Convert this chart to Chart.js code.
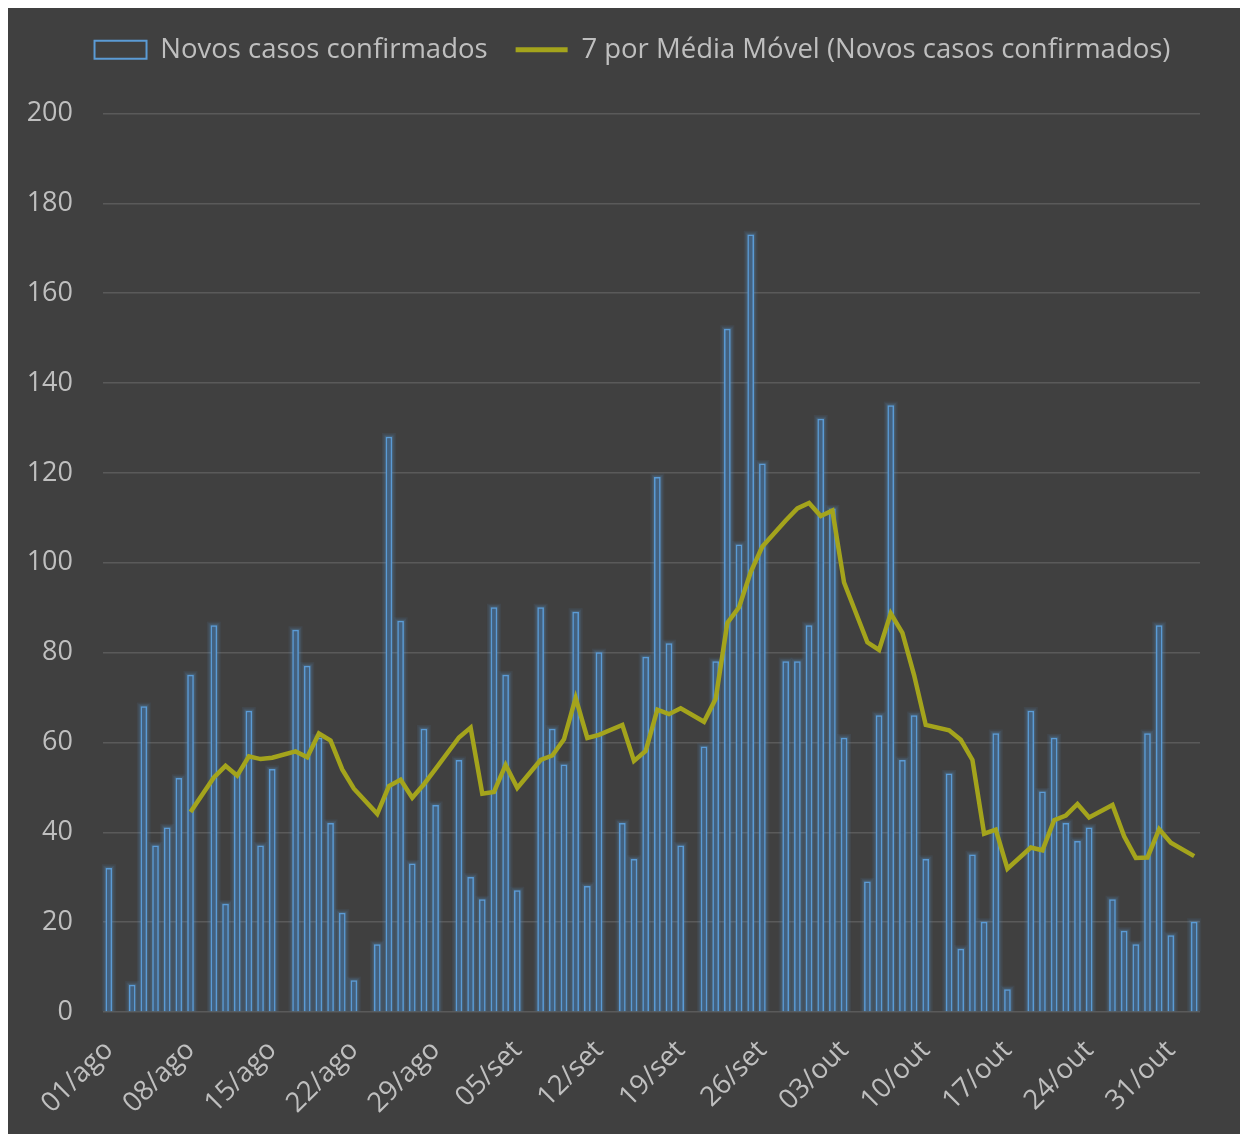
<!DOCTYPE html>
<html>
<head>
<meta charset="utf-8">
<script src="https://cdn.jsdelivr.net/npm/chart.js@4/dist/chart.umd.min.js"></script>
<style>
  html, body { margin: 0; padding: 0; background: #fff; overflow: hidden; }
  #wrap { position: absolute; left: 8px; top: 8px; width: 1232px; height: 1126px; }
</style>
</head>
<body>
<div id="wrap"><canvas id="chart" width="1232" height="1126"></canvas></div>
<script>
// dias de 01/ago a 02/nov (domingos sem dado)
const months = [["ago", 31], ["set", 30], ["out", 31], ["nov", 2]];
const labels = [];
for (const [m, n] of months) {
  for (let d = 1; d <= n; d++) labels.push(String(d).padStart(2, "0") + "/" + m);
}

const novosCasos = [
  32, null, 6, 68, 37, 41, 52,
  75, null, 86, 24, 53, 67, 37,
  54, null, 85, 77, 61, 42, 22,
  7, null, 15, 128, 87, 33, 63,
  46, null, 56, 30, 25, 90, 75,
  27, null, 90, 63, 55, 89, 28,
  80, null, 42, 34, 79, 119, 82,
  37, null, 59, 78, 152, 104, 173,
  122, null, 78, 78, 86, 132, 112,
  61, null, 29, 66, 135, 56, 66,
  34, null, 53, 14, 35, 20, 62,
  5, null, 67, 49, 61, 42, 38,
  41, null, 25, 18, 15, 62, 86,
  17, null, 20,
];

const mediaMovel = [
  null, null, null, null, null, null, null,
  44.5, null, 52.2, 54.8, 52.6, 56.9, 56.3,
  56.6, null, 58.0, 56.7, 62.0, 60.4, 54.0,
  49.7, null, 44.1, 50.3, 51.7, 47.7, 50.7,
  54.1, null, 61.1, 63.3, 48.6, 49.0, 55.0,
  49.9, null, 56.1, 57.1, 60.7, 69.9, 61.0,
  61.7, null, 63.9, 55.9, 58.1, 67.3, 66.3,
  67.6, null, 64.6, 69.7, 86.6, 90.1, 97.9,
  103.6, null, 109.4, 112.1, 113.3, 110.4, 111.6,
  95.6, null, 82.3, 80.6, 88.7, 84.4, 75.0,
  63.9, null, 62.7, 60.6, 56.1, 39.7, 40.6,
  31.9, null, 36.6, 36.0, 42.7, 43.7, 46.3,
  43.3, null, 46.1, 39.1, 34.3, 34.4, 40.7,
  37.7, null, 34.7,
];

const BLUE = "#5b9bd5";
const OLIVE = "#a4a41c";
const TEXT = "#bfbfbf";
const FONT = "'Open Sans', 'Noto Sans', sans-serif";

const background = {
  id: "background",
  beforeDraw(chart) {
    const { ctx, width, height } = chart;
    ctx.save();
    ctx.fillStyle = "#404040";
    ctx.fillRect(0, 0, width, height);
    ctx.restore();
  },
};

// espaço extra entre a legenda e a área do gráfico, legenda um pouco à direita
const legendGap = {
  id: "legendGap",
  beforeInit(chart) {
    const fit = chart.legend.fit;
    chart.legend.fit = function () {
      fit.call(this);
      this.height += 40;
    };
  },
  afterLayout(chart) {
    chart.legend.left += 20;
    chart.legend.right += 20;
  },
};

// halo azul em volta de cada barra (camadas translúcidas)
const glow = {
  id: "glow",
  beforeDatasetDraw(chart, args) {
    if (args.index !== 0) return;
    const ctx = chart.ctx;
    ctx.save();
    args.meta.data.forEach((bar, i) => {
      if (novosCasos[i] == null || !Number.isFinite(bar.y)) return;
      const half = bar.width / 2;
      for (const [pad, a] of [[4, 0.08], [2.5, 0.12], [1.2, 0.18]]) {
        ctx.fillStyle = `rgba(91,155,213,${a})`;
        ctx.fillRect(bar.x - half - pad, bar.y - pad, bar.width + 2 * pad, bar.base - bar.y + pad);
      }
    });
    ctx.restore();
  },
};

new Chart(document.getElementById("chart"), {
  type: "bar",
  data: {
    labels,
    datasets: [
      {
        label: "Novos casos confirmados",
        data: novosCasos,
        backgroundColor: "#43617f",
        borderColor: BLUE,
        borderWidth: 1.5,
        barThickness: 6,
        order: 2,
      },
      {
        type: "line",
        label: "7 por Média Móvel (Novos casos confirmados)",
        data: mediaMovel,
        borderColor: OLIVE,
        borderWidth: 4.5,
        pointRadius: 0,
        spanGaps: true,
        tension: 0,
        order: 1,
      },
    ],
  },
  options: {
    responsive: false,
    animation: false,
    layout: { padding: { left: 17, right: 40, top: 0, bottom: 0 } },
    plugins: {
      tooltip: { enabled: false },
      legend: {
        position: "top",
        labels: {
          color: TEXT,
          font: { family: FONT, size: 27.5 },
          usePointStyle: true,
          pointStyleWidth: 52,
          boxHeight: 18,
          padding: 28,
          generateLabels: () => [
            { text: "Novos casos confirmados", pointStyle: "rect", fillStyle: "rgba(0,0,0,0)", strokeStyle: BLUE, lineWidth: 2, fontColor: TEXT, datasetIndex: 0 },
            { text: "7 por Média Móvel (Novos casos confirmados)", pointStyle: "line", fillStyle: OLIVE, strokeStyle: OLIVE, lineWidth: 5, fontColor: TEXT, datasetIndex: 1 },
          ],
        },
      },
    },
    scales: {
      x: {
        grid: { display: false, drawTicks: false },
        border: { display: false },
        ticks: {
          autoSkip: false,
          maxRotation: 45,
          minRotation: 45,
          color: TEXT,
          padding: 22,
          font: { family: FONT, size: 27.5 },
          callback: (v, i) => (i % 7 === 0 ? labels[i] : ""),
        },
        afterFit: (axis) => { axis.height = 122; },
      },
      y: {
        min: 0,
        max: 200,
        grid: { color: "#5a5a5a", lineWidth: 1.5, drawTicks: false },
        border: { display: false },
        ticks: {
          stepSize: 20,
          color: TEXT,
          padding: 30,
          font: { family: FONT, size: 27 },
        },
        afterFit: (axis) => { axis.width = 78; },
      },
    },
  },
  plugins: [background, legendGap, glow],
});
</script>
</body>
</html>
